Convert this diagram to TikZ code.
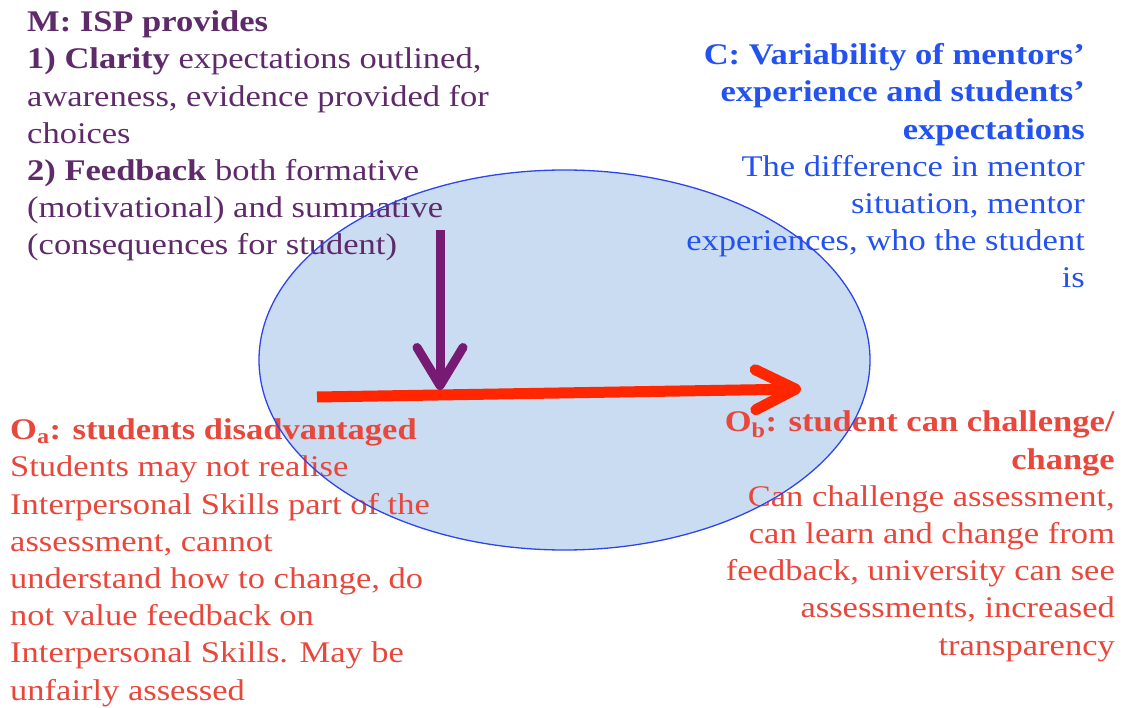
\documentclass[tikz,border=0pt]{standalone}
\usepackage{fontspec}
\setmainfont[FakeStretch=1.15]{Liberation Serif}
\usetikzlibrary{arrows.meta,shapes.geometric}
\definecolor{mpurple}{HTML}{5E2A6A}
\definecolor{apurple}{HTML}{761A74}
\definecolor{cblue}{HTML}{2352EE}
\definecolor{ored}{HTML}{E8473C}
\definecolor{ared}{HTML}{FF2600}
\definecolor{efill}{HTML}{CADCF1}
\definecolor{eline}{HTML}{2E45EC}
\begin{document}
\begin{tikzpicture}[x=1pt,y=-1pt,
  txt/.style={inner sep=0pt, font=\fontsize{30pt}{37.2pt}\selectfont},
  ell/.style={ellipse, inner sep=0pt, minimum width=611pt, minimum height=380pt},
  redarrow/.style={draw=ared, line width=11pt, -{Straight Barb[length=40pt,width=40pt,round]}},
  purarrow/.style={draw=apurple, line width=9pt, -{Straight Barb[length=38pt,width=46pt,round]}}]
\useasboundingbox (0,0) rectangle (1129,708);
\node[ell, fill=efill] (efill) at (564.5,360) {};
\node[txt, anchor=base west, align=left, text=mpurple] (m) at (27,255)
 {\textbf{M: ISP provides}\\
  \textbf{1) Clarity} expectations outlined,\\
  awareness, evidence provided for\\
  choices\\
  \textbf{2) Feedback} both formative\\
  (motivational) and summative\\
  (consequences for student)};
\node[txt, anchor=base east, align=right, text=cblue] (c) at (1085,288)
 {\textbf{C: Variability of mentors’}\\
  \textbf{experience and students’}\\
  \textbf{expectations}\\
  The difference in mentor\\
  situation, mentor\\
  experiences, who the student\\
  is};
\node[txt, anchor=base west, align=left, text=ored] (oa) at (10,700)
 {\textbf{O\textsubscript{a}: students disadvantaged}\\
  Students may not realise\\
  Interpersonal Skills part of the\\
  assessment, cannot\\
  understand how to change, do\\
  not value feedback on\\
  Interpersonal Skills. May be\\
  unfairly assessed};
\node[txt, anchor=base east, align=right, text=ored] (ob) at (1115,655)
 {\textbf{O\textsubscript{b}: student can challenge/}\\
  \textbf{change}\\
  Can challenge assessment,\\
  can learn and change from\\
  feedback, university can see\\
  assessments, increased\\
  transparency};
\node[ell, draw=eline, line width=1.3pt] (eline) at (efill.center) {};
\coordinate (r1) at (317,397);
\coordinate (r2) at (801,389);
\coordinate (p1) at (440,230);
\coordinate (p2) at (440,390);
\draw[redarrow] (r1) -- (r2);
\draw[purarrow] (p1) -- (p2);
\end{tikzpicture}
\end{document}
